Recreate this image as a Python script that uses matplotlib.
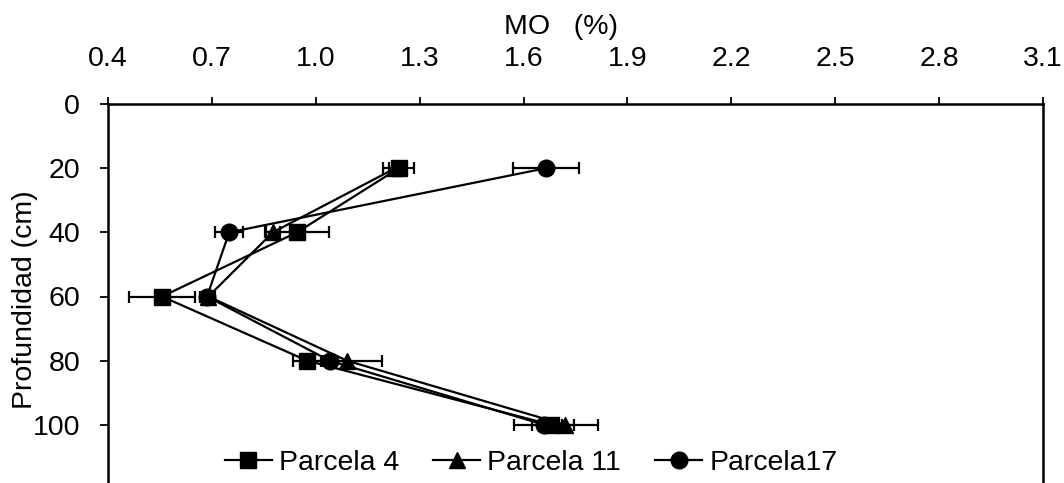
import matplotlib
matplotlib.use("Agg")
import matplotlib.pyplot as plt
from matplotlib.lines import Line2D

plt.rcParams['font.family'] = ['Liberation Sans', 'DejaVu Sans']

depth = [20, 40, 60, 80, 100]
p4 = [1.24, 0.946, 0.556, 0.975, 1.68]
p4_err = [0.045, 0.092, 0.095, 0.04, 0.03]
p11 = [1.23, 0.876, 0.69, 1.09, 1.72]
p11_err = [0.02, 0.02, 0.02, 0.10, 0.095]
p17 = [1.665, 0.75, 0.686, 1.04, 1.66]
p17_err = [0.095, 0.04, 0.02, 0.02, 0.087]
labels = ['Parcela 4', 'Parcela 11', 'Parcela17']
xticks = [0.4, 0.7, 1.0, 1.3, 1.6, 1.9, 2.2, 2.5, 2.8, 3.1]
yticks = [0, 20, 40, 60, 80, 100]

fig = plt.figure(figsize=(10.64, 4.83), dpi=100)
ax = fig.add_axes([108/1064, 1 - 489/483, 935/1064, (489 - 104)/483])

series = [(p4, p4_err, 's', 11.5), (p11, p11_err, '^', 12), (p17, p17_err, 'o', 12)]
for (vals, err, mk, ms), lab in zip(series, labels):
    ax.errorbar(vals, depth, xerr=err, color='black', marker=mk, markersize=ms,
                linewidth=1.6, elinewidth=1.6, capsize=4.5, capthick=1.6,
                markerfacecolor='black', markeredgecolor='black', label=lab)

ax.set_xlim(0.4, 3.1)
ax.set_ylim(120, 0)
ax.set_xticks(xticks)
ax.set_xticklabels([f"{t:.1f}" for t in xticks])
ax.set_yticks(yticks)
ax.xaxis.tick_top()
ax.tick_params(axis='x', top=True, bottom=False, labeltop=True, labelbottom=False,
               direction='out', length=5, width=1.3, pad=18, labelsize=20.5, colors='black')
ax.tick_params(axis='y', direction='out', length=6, width=1.3, pad=14, labelsize=20.5)
for s in ['top', 'left', 'right']:
    ax.spines[s].set_linewidth(1.8)
ax.spines['bottom'].set_visible(False)

fig.text(561/1064, 1 - 27/483, 'MO   (%)', ha='center', va='center', fontsize=20.5)
fig.text(25/1064, 1 - 300/483, 'Profundidad (cm)', ha='center', va='center',
         rotation=90, fontsize=20.5)

leg_handles = [Line2D([], [], color='black', marker=m, markersize=ms, linewidth=1.6)
               for (_, _, m, ms) in series]
fig.legend(leg_handles, labels, ncol=3, loc='center',
           bbox_to_anchor=(531/1064, 1 - 463/483), frameon=False, fontsize=20.5,
           handlelength=1.65, handletextpad=0.25, columnspacing=1.2)

fig.savefig('out.png', dpi=100)
